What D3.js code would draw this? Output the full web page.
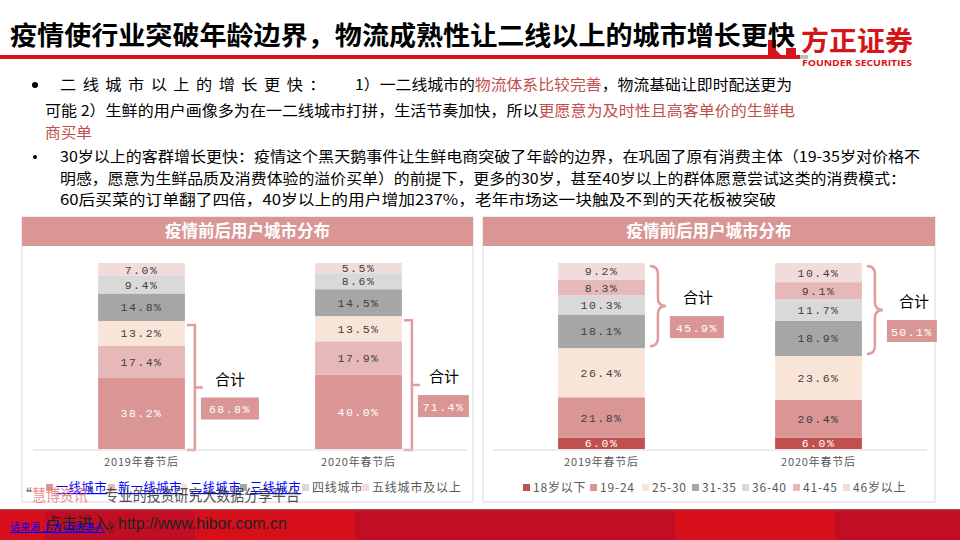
<!DOCTYPE html>
<html>
<head>
<meta charset="utf-8">
<script src="https://cdn.jsdelivr.net/npm/d3@7"></script>
<style>
  body { margin: 0; background: #fff; }
  svg { display: block; font-family: "Noto Sans CJK SC", "Noto Sans", sans-serif; }
</style>
</head>
<body>
<div id="vis"></div>
<script>
const FRAME_WIDTH = 960;
const FRAME_HEIGHT = 540;

// left chart: user distribution by city tier
const periods = ["2019年春节后", "2020年春节后"];
const cityTiers = ["一线城市", "新一线城市", "二线城市", "三线城市", "四线城市", "五线城市及以上"];
const city2019 = [38.2, 17.4, 13.2, 14.8, 9.4, 7.0];
const city2020 = [40.0, 17.9, 13.5, 14.5, 8.6, 5.5];
const cityTotals = ["68.8%", "71.4%"];

// right chart: user distribution by age
const ageGroups = ["18岁以下", "19-24", "25-30", "31-35", "36-40", "41-45", "46岁以上"];
const age2019 = [6.0, 21.8, 26.4, 18.1, 10.3, 8.3, 9.2];
const age2020 = [6.0, 20.4, 23.6, 18.9, 11.7, 9.1, 10.4];
const ageTotals = ["45.9%", "50.1%"];

const cityColors = ["#D99694", "#E6B9B8", "#F9E5D8", "#A6A6A6", "#D9D9D9", "#F2DCDB"];
const ageColors = ["#C0504D", "#D99694", "#F9E5D8", "#A6A6A6", "#D9D9D9", "#E6B9B8", "#F2DCDB"];

const svg = d3.select("#vis").append("svg")
    .attr("width", FRAME_WIDTH)
    .attr("height", FRAME_HEIGHT);

// ---------- header ----------
svg.append("path") // logo mark, mostly behind the title
    .attr("d", "M768,40 L776,40 L776,50 L784,58 L768,58 Z M786,48 L796,48 L796,58 L786,58 Z")
    .attr("fill", "#D7141A");

svg.append("text")
    .attr("x", 10).attr("y", 45)
    .attr("font-size", 26).attr("font-weight", "bold").attr("fill", "#000")
    .attr("textLength", 785).attr("lengthAdjust", "spacingAndGlyphs")
    .text("疫情使行业突破年龄边界，物流成熟性让二线以上的城市增长更快");

svg.append("rect").attr("x", 0).attr("y", 55).attr("width", 800).attr("height", 4).attr("fill", "#D7141A");
svg.append("rect").attr("x", 800).attr("y", 55).attr("width", 8).attr("height", 4).attr("fill", "#BFBFBF");

svg.append("text")
    .attr("x", 801).attr("y", 51)
    .attr("font-size", 27).attr("font-weight", "bold").attr("fill", "#D7141A")
    .attr("textLength", 112).attr("lengthAdjust", "spacingAndGlyphs")
    .text("方正证券");
svg.append("text")
    .attr("x", 802).attr("y", 66)
    .attr("font-size", 9.5).attr("font-weight", "bold").attr("fill", "#D7141A")
    .attr("font-family", "Open Sans, sans-serif")
    .attr("textLength", 110).attr("lengthAdjust", "spacingAndGlyphs")
    .text("FOUNDER SECURITIES");

// ---------- bullet text ----------
const RED_TXT = "#C0504D";
function textLine(x, y, size, parts, len) {
  const t = svg.append("text").attr("x", x).attr("y", y).attr("font-size", size);
  if (len) t.attr("textLength", len).attr("lengthAdjust", "spacingAndGlyphs");
  parts.forEach(p => t.append("tspan").attr("fill", p[1] || "#000").text(p[0]));
  return t;
}
svg.append("circle").attr("cx", 35).attr("cy", 85).attr("r", 3).attr("fill", "#000");
textLine(60, 90, 15, [["二线城市以上的增长更快："]], 272)
    .attr("letter-spacing", 6);
textLine(355, 90, 15, [["1）一二线城市的"], ["物流体系比较完善", RED_TXT], ["，物流基础让即时配送更为"]], 437);
textLine(45, 116, 15, [["可能 2）生鲜的用户画像多为在一二线城市打拼，生活节奏加快，所以"], ["更愿意为及时性且高客单价的生鲜电", RED_TXT]], 750);
textLine(45, 138, 15, [["商买单", RED_TXT]], 47);

svg.append("circle").attr("cx", 35).attr("cy", 157).attr("r", 2).attr("fill", "#000");
textLine(60, 162, 15, [["30岁以上的客群增长更快：疫情这个黑天鹅事件让生鲜电商突破了年龄的边界，在巩固了原有消费主体（19-35岁对价格不"]], 860);
textLine(60, 184, 15, [["明感，愿意为生鲜品质及消费体验的溢价买单）的前提下，更多的30岁，甚至40岁以上的群体愿意尝试这类的消费模式："]], 846);
textLine(60, 205, 15, [["60后买菜的订单翻了四倍，40岁以上的用户增加237%，老年市场这一块触及不到的天花板被突破"]], 716);

// ---------- panels ----------
function panel(x0, w, title) {
  svg.append("rect").attr("x", x0).attr("y", 217).attr("width", w).attr("height", 285)
      .attr("fill", "#fff").attr("stroke", "#D9D9D9").attr("stroke-width", 1);
  svg.append("rect").attr("x", x0).attr("y", 217).attr("width", w).attr("height", 29)
      .attr("fill", "#D99694");
  svg.append("text").attr("x", x0 + w / 2).attr("y", 237)
      .attr("text-anchor", "middle").attr("font-size", 16.5).attr("font-weight", "bold")
      .attr("fill", "#fff").text(title);
}

function brace(g, x, y1, y2, ym, curly) {
  const r = 8;
  const d = curly
    ? `M${x - 8},${y1} Q${x},${y1} ${x},${y1 + r} L${x},${ym - r} Q${x},${ym} ${x + 8},${ym} ` +
      `Q${x},${ym} ${x},${ym + r} L${x},${y2 - r} Q${x},${y2} ${x - 8},${y2}`
    : `M${x - 8},${y1} L${x},${y1} L${x},${y2} L${x - 8},${y2} M${x},${ym} L${x + 8},${ym}`;
  g.append("path").attr("d", d).attr("fill", "none")
      .attr("stroke", "#E39C9C").attr("stroke-width", 2.5);
}

function stackChart(opt) {
  const g = svg.append("g");
  const X = d3.scaleBand().domain(periods).range(opt.xRange).paddingInner(0.6).paddingOuter(0.3);
  const Y = d3.scaleLinear().domain([0, 100]).range([449, 263]);

  opt.series.forEach((vals, pi) => {
    let acc = 0;
    const segs = vals.map((v, i) => { const s = { v, i, y0: acc, y1: acc + v }; acc += v; return s; });
    const bar = g.append("g");
    bar.selectAll("rect").data(segs).enter().append("rect")
        .attr("x", X(periods[pi]))
        .attr("width", X.bandwidth())
        .attr("y", d => Y(Math.min(d.y1, 100)))
        .attr("height", d => Y(d.y0) - Y(Math.min(d.y1, 100)))
        .attr("fill", d => opt.colors[d.i]);
    bar.selectAll("text").data(segs).enter().append("text")
        .attr("x", X(periods[pi]) + X.bandwidth() / 2)
        .attr("y", d => (Y(d.y0) + Y(Math.min(d.y1, 100))) / 2 + 4)
        .attr("text-anchor", "middle")
        .attr("font-family", "Liberation Mono, monospace")
        .attr("font-size", 11.5).attr("letter-spacing", 1.5)
        .attr("fill", d => d.i === 0 ? "#fff" : "#404040")
        .text(d => d.v.toFixed(1) + "%");

    // brace over the grouped segments
    const from = segs[opt.group[0]].y0, to = Math.min(segs[opt.group[1]].y1, 100);
    const bx = X(periods[pi]) + X.bandwidth() + opt.braceGap;
    const yTop = Y(to) + opt.braceInset, yBot = Y(from) + (opt.curly ? -2 : 1);
    const ym = (yTop + yBot) / 2;
    const bw = opt.boxW[pi];
    brace(g, bx, yTop, yBot, ym, opt.curly);
    g.append("text").attr("x", bx + opt.labelDx[pi]).attr("y", ym - 3)
        .attr("font-size", 15).attr("fill", "#000").text("合计");
    g.append("rect").attr("x", bx + opt.boxDx).attr("y", ym + 10)
        .attr("width", bw).attr("height", 22).attr("fill", "#D99694");
    g.append("text").attr("x", bx + opt.boxDx + bw / 2).attr("y", ym + 25.5)
        .attr("text-anchor", "middle")
        .attr("font-family", "Liberation Mono, monospace")
        .attr("font-size", 11.5).attr("letter-spacing", 1.5).attr("fill", "#fff")
        .text(opt.totals[pi]);
  });

  // category axis
  const ax = g.append("g").attr("transform", "translate(0,450)")
      .call(d3.axisBottom(X).tickSize(0).tickPadding(8));
  ax.select(".domain").attr("stroke", "#D9D9D9").attr("d", `M${opt.xRange[0]},0H${opt.xRange[1]}`);
  ax.selectAll("text").attr("font-size", 11).attr("fill", "#595959")
      .attr("font-family", "Noto Sans CJK SC, sans-serif").attr("letter-spacing", 0.8);
  return g;
}

panel(22, 451, "疫情前后用户城市分布");
panel(483, 452, "疫情前后用户城市分布");

stackChart({
  xRange: [33, 467], series: [city2019, city2020],
  colors: cityColors, group: [0, 2], totals: cityTotals, curly: false,
  braceGap: 10, braceInset: 4, labelDx: [20, 17], boxDx: 6, boxW: [58, 51]
});
stackChart({
  xRange: [493, 927], series: [age2019, age2020],
  colors: ageColors, group: [3, 6], totals: ageTotals, curly: true,
  braceGap: 13, braceInset: 3, labelDx: [25, 24], boxDx: 12, boxW: [54, 50]
});

// ---------- legends ----------
function legend(items, colors, xs, fontSize) {
  const lg = svg.append("g");
  items.forEach((name, i) => {
    lg.append("rect").attr("x", xs[i]).attr("y", 484).attr("width", 7).attr("height", 7).attr("fill", colors[i]);
    lg.append("text").attr("x", xs[i] + 10).attr("y", 492)
        .attr("font-size", fontSize).attr("fill", "#595959").attr("letter-spacing", 0.8)
        .text(name);
  });
  return lg;
}
const cityLg = legend(cityTiers, cityColors, [46, 108, 180, 240, 302, 362], 12);
// first entries render as hyperlinks in the source
cityLg.selectAll("text").filter((d, i) => i < 4)
    .attr("fill", "#0000FF").attr("text-decoration", "underline");
legend(ageGroups, ageColors, [523, 590, 642, 692, 742, 793, 843], 12);

// watermark line over the legend
svg.append("text").attr("x", 18).attr("y", 501).attr("font-size", 16)
    .attr("textLength", 282).attr("lengthAdjust", "spacingAndGlyphs")
    .call(t => {
      t.append("tspan").attr("fill", "#333").text("“");
      t.append("tspan").attr("fill", "#E8787A").text("慧博资讯");
      t.append("tspan").attr("fill", "#333").text("” 专业的投资研究大数据分享平台");
    })
    .attr("opacity", 0.85);

// ---------- footer ----------
const footer = svg.append("g");
footer.append("rect").attr("x", 0).attr("y", 510).attr("width", 960).attr("height", 30).attr("fill", "#C20E24");
[[0, 45], [195, 160], [675, 160]].forEach(([x, w]) =>
  footer.append("rect").attr("x", x).attr("y", 510).attr("width", w).attr("height", 30).attr("fill", "#D70F1A"));
footer.append("rect").attr("x", 0).attr("y", 509).attr("width", 960).attr("height", 1.5).attr("fill", "#B0404A");
footer.append("text").attr("x", 45).attr("y", 529).attr("font-size", 16).attr("fill", "#222").text("点击进入");
footer.append("text").attr("x", 104).attr("y", 531).attr("font-size", 13).attr("fill", "#222").text("☝");
footer.append("text").attr("x", 118).attr("y", 529).attr("font-size", 16)
    .attr("font-family", "Liberation Sans, Arial, sans-serif").attr("fill", "#222").text("http://www.hibor.com.cn");
footer.append("text").attr("x", 10).attr("y", 531).attr("font-size", 10)
    .attr("fill", "#0000FF").attr("text-decoration", "underline").text("请来源 上方 点击进入");
</script>
</body>
</html>
